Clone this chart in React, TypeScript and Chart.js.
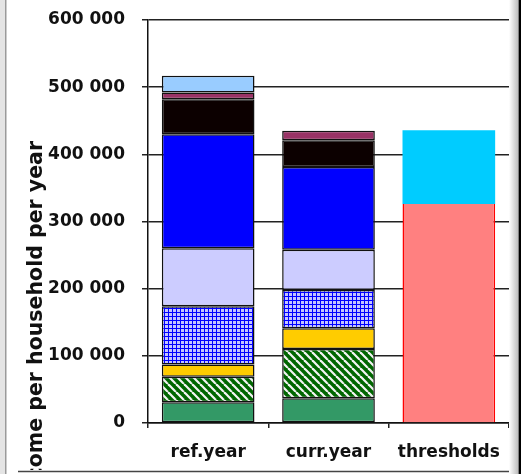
import React, { useEffect, useRef } from 'react';
import { Chart, registerables } from 'chart.js';

Chart.register(...registerables);

const categories = ['ref.year', 'curr.year', 'thresholds'];
const greenValues = [31000, 37000, null];
const hatchedValues = [38000, 73000, null];
const yellowValues = [18000, 31000, null];
const checkValues = [87000, 57000, null];
const lavenderValues = [86000, 60000, null];
const blueValues = [170000, 123000, null];
const blackValues = [52000, 40000, null];
const maroonValues = [10000, 14000, null];
const lightBlueValues = [25000, null, null];
const lowerThresholdValues = [null, null, 326000];
const upperThresholdValues = [null, null, 110000];
const yMin = 0;
const yMax = 600000;
const yStep = 100000;
const axisTitle = 'Income per household per year';

const FONT = '"DejaVu Sans", sans-serif';

function hatchPattern(): CanvasPattern | string {
  const c = document.createElement('canvas');
  c.width = 8;
  c.height = 8;
  const g = c.getContext('2d');
  if (!g) return '#006600';
  g.fillStyle = '#006600';
  g.fillRect(0, 0, 8, 8);
  g.strokeStyle = '#f4f4f4';
  g.lineWidth = 2.2;
  for (const o of [-8, 0, 8]) {
    g.beginPath();
    g.moveTo(o, 0);
    g.lineTo(o + 8, 8);
    g.stroke();
  }
  return g.createPattern(c, 'repeat') || '#006600';
}

function checkPattern(): CanvasPattern | string {
  const c = document.createElement('canvas');
  c.width = 4;
  c.height = 4;
  const g = c.getContext('2d');
  if (!g) return '#6666ff';
  g.fillStyle = '#c4c4ff';
  g.fillRect(0, 0, 4, 4);
  g.fillStyle = '#0000ff';
  g.fillRect(0, 0, 4, 1);
  g.fillRect(0, 0, 1, 4);
  return g.createPattern(c, 'repeat') || '#6666ff';
}

const fmt = (v: number) => String(v).replace(/\B(?=(\d{3})+(?!\d))/g, ' ');

const framePlugin = {
  id: 'framePlugin',
  afterDraw(chart: any) {
    const ctx = chart.ctx as CanvasRenderingContext2D;
    const W = chart.width;
    const H = chart.height;
    ctx.save();
    ctx.beginPath();
    ctx.rect(0, 0, W, 470);
    ctx.clip();
    ctx.translate(42, 141);
    ctx.rotate(-Math.PI / 2);
    ctx.font = 'bold 20.5px ' + FONT;
    ctx.fillStyle = '#111';
    ctx.textAlign = 'right';
    ctx.textBaseline = 'alphabetic';
    ctx.fillText(axisTitle, 0, 0);
    ctx.restore();

    ctx.save();
    ctx.fillStyle = '#e4e4e4';
    ctx.fillRect(0, 0, 6, H);
    ctx.fillStyle = '#9a9a9a';
    ctx.fillRect(5, 0, 1.5, H);
    ctx.strokeStyle = '#444';
    ctx.lineWidth = 1.5;
    ctx.beginPath();
    ctx.moveTo(18, 471.5);
    ctx.lineTo(509, 471.5);
    ctx.stroke();
    const grad = ctx.createLinearGradient(509, 0, 518, 0);
    grad.addColorStop(0, 'rgba(255,255,255,1)');
    grad.addColorStop(1, 'rgba(190,190,190,1)');
    ctx.fillStyle = grad;
    ctx.fillRect(509, 0, 9, H);
    ctx.fillStyle = '#000';
    ctx.fillRect(518.5, 0, 2.5, H);
    ctx.restore();
  },
};

export default function App() {
  const ref = useRef<HTMLCanvasElement | null>(null);

  useEffect(() => {
    document.body.style.margin = '0';
    const canvas = ref.current;
    if (!canvas) return;
    const seg = (label: string, data: (number | null)[], bg: any) => ({
      label,
      data,
      backgroundColor: bg,
      borderColor: '#111',
      borderWidth: 1.5,
      borderSkipped: false,
    });
    const chart = new Chart(canvas, {
      type: 'bar',
      data: {
        labels: categories,
        datasets: [
          seg('green', greenValues, '#339966'),
          seg('hatched', hatchedValues, hatchPattern()),
          seg('yellow', yellowValues, '#ffcc00'),
          seg('checked', checkValues, checkPattern()),
          seg('lavender', lavenderValues, '#ccccff'),
          seg('blue', blueValues, '#0000ff'),
          seg('black', blackValues, '#0c0000'),
          seg('maroon', maroonValues, '#993366'),
          seg('lightblue', lightBlueValues, '#99ccff'),
          {
            label: 'lower threshold',
            data: lowerThresholdValues,
            backgroundColor: '#ff8080',
            borderColor: '#ff0000',
            borderWidth: { left: 1.5, right: 1.5, top: 0, bottom: 0 },
            borderSkipped: false,
          },
          {
            label: 'upper threshold',
            data: upperThresholdValues,
            backgroundColor: '#00ccff',
            borderWidth: 0,
          },
        ] as any,
      },
      options: {
        animation: false,
        responsive: false,
        maintainAspectRatio: false,
        devicePixelRatio: 1,
        layout: { padding: { left: 0, right: 12, top: 20, bottom: 0 } },
        plugins: { legend: { display: false }, tooltip: { enabled: false }, title: { display: false } },
        datasets: { bar: { barPercentage: 0.77, categoryPercentage: 1 } },
        scales: {
          x: {
            stacked: true,
            offset: true,
            grid: {
              offset: true,
              drawOnChartArea: false,
              drawTicks: true,
              tickLength: 5,
              color: (c: any) => (c.index === 3 ? 'rgba(0,0,0,0)' : '#222'),
              lineWidth: 1.5,
            },
            border: { display: true, color: '#111', width: 1.5 },
            ticks: { color: '#111', font: { family: FONT, size: 17, weight: 'bold' }, padding: 14 },
            afterFit: (s: any) => {
              s.height = 51;
              s.paddingLeft = 0;
              s.paddingRight = 0;
            },
          },
          y: {
            stacked: true,
            min: yMin,
            max: yMax,
            grid: { color: '#222', lineWidth: 1.5, tickLength: 6, drawTicks: true },
            border: { display: true, color: '#111', width: 1.5 },
            ticks: {
              stepSize: yStep,
              color: '#111',
              padding: 17,
              font: { family: FONT, size: 17, weight: 'bold' },
              callback: (v: any) => fmt(Number(v)),
            },
            afterFit: (s: any) => {
              s.width = 148;
              s.paddingTop = 0;
              s.paddingBottom = 0;
            },
          },
        },
      } as any,
      plugins: [framePlugin],
    });
    return () => chart.destroy();
  }, []);

  return (
    <div style={{ width: 521, height: 474, background: '#fff' }}>
      <canvas ref={ref} width={521} height={474} style={{ display: 'block', width: 521, height: 474 }} />
    </div>
  );
}
